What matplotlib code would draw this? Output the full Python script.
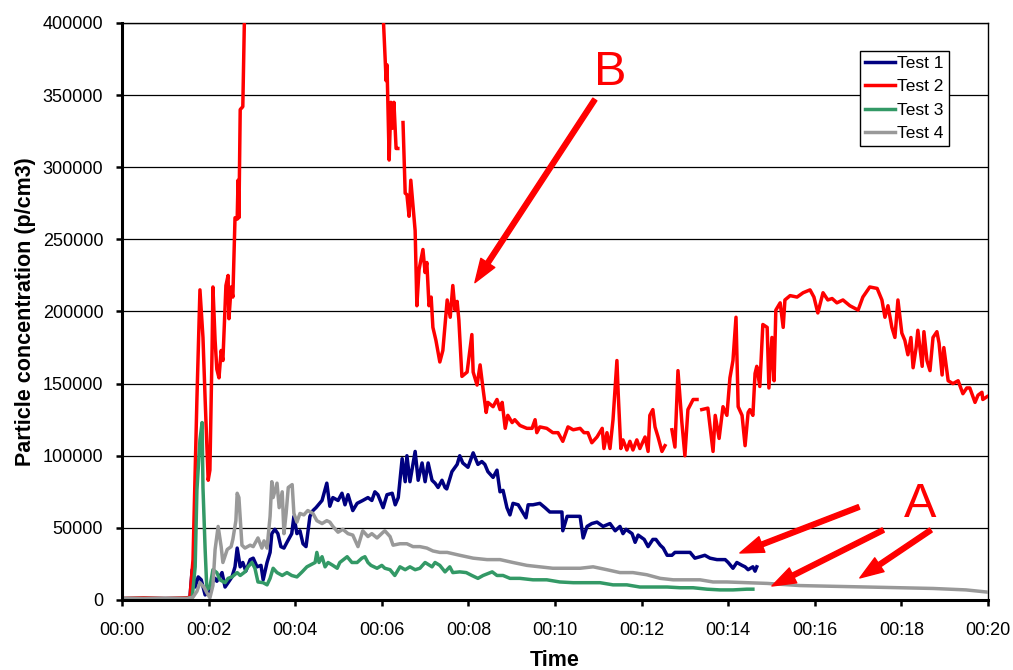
import numpy as np
import matplotlib
matplotlib.use("Agg")
import matplotlib.pyplot as plt
from matplotlib.ticker import FuncFormatter, MultipleLocator

plt.rcParams['font.family'] = ['Liberation Sans', 'DejaVu Sans']

nan = float('nan')

# ---- Test 1 (minutes, p/cm3)
t1 = [0.0, 0.5, 1.0, 1.5, 1.57, 1.62, 1.69, 1.76, 1.83, 1.92, 2.01, 2.08, 2.15, 2.19, 2.31, 2.38, 2.45,
      2.54, 2.61, 2.66, 2.73, 2.79, 2.86, 2.96, 3.03, 3.12, 3.21, 3.26, 3.35, 3.42, 3.46, 3.53, 3.60,
      3.67, 3.74, 3.81, 3.92, 3.97, 4.04, 4.11, 4.18, 4.25, 4.34, 4.41, 4.48, 4.62, 4.73, 4.80, 4.87,
      4.99, 5.08, 5.15, 5.22, 5.33, 5.43, 5.56, 5.68, 5.77, 5.84, 5.91, 6.03, 6.12, 6.24, 6.31, 6.38,
      6.47, 6.54, 6.58, 6.65, 6.77, 6.84, 6.93, 7.00, 7.07, 7.16, 7.23, 7.30, 7.39, 7.46, 7.50, 7.62,
      7.74, 7.80, 7.87, 7.99, 8.11, 8.22, 8.31, 8.38, 8.45, 8.57, 8.66, 8.73, 8.80, 8.89, 8.96, 9.03,
      9.15, 9.33, 9.38, 9.49, 9.65, 9.77, 9.88, 10.16, 10.18, 10.28, 10.42, 10.58, 10.65, 10.74, 10.85,
      10.97, 11.11, 11.27, 11.39, 11.50, 11.57, 11.64, 11.78, 11.85, 11.92, 12.06, 12.15, 12.26, 12.33,
      12.43, 12.50, 12.59, 12.70, 12.77, 12.89, 13.00, 13.12, 13.23, 13.35, 13.46, 13.58, 13.74, 13.86,
      13.93, 14.00, 14.11, 14.20, 14.32, 14.39, 14.46, 14.57, 14.62, 14.66]
v1 = [1000, 1000, 1000, 1000, 2000, 21000, 9000, 16000, 14000, 3500, 6000, 12000, 15000, 13000, 19000,
      9000, 12000, 16000, 23000, 36000, 23000, 26000, 20000, 28000, 29000, 23000, 24000, 14000, 26000,
      33000, 46000, 49000, 46000, 37000, 36000, 40000, 46000, 58000, 46000, 48000, 39000, 37000, 58000,
      62000, 64000, 69000, 81000, 65000, 71000, 69000, 74000, 66000, 73000, 62000, 67000, 69000, 71000,
      69000, 75000, 73000, 64000, 73000, 74000, 66000, 71000, 98000, 82000, 100000, 82000, 103000,
      83000, 95000, 82000, 95000, 83000, 81000, 78000, 83000, 78000, 77000, 89000, 94000, 100000, 95000,
      92000, 102000, 94000, 96000, 94000, 89000, 85000, 90000, 75000, 76000, 64000, 59000, 67000, 66000,
      57000, 66000, 66000, 67000, 64000, 61000, 61000, 48000, 58000, 58000, 58000, 43000, 51000, 53000,
      54000, 51000, 53000, 48000, 51000, 46000, 49000, 46000, 40000, 45000, 42000, 37000, 42000, 42000,
      38000, 36000, 31000, 31000, 33000, 33000, 33000, 33000, 29000, 30000, 31000, 29000, 28000, 28000,
      28000, 26000, 22000, 26000, 24000, 23000, 21000, 23000, 20000, 23000]

# ---- Test 2
t2 = [0.0, 0.5, 1.0, 1.5, 1.57, 1.64, 1.73, 1.80, 1.87, 1.92, 1.99, 2.03, 2.08, 2.10, 2.15, 2.19, 2.24,
      2.29, 2.33, 2.40, 2.45, 2.47, 2.52, 2.56, 2.61, 2.66, 2.68, 2.70, 2.73, 2.79, 2.85, 5.98, 6.10,
      6.12, 6.17, 6.21, 6.24, 6.28, 6.33, 6.37, 6.42, 6.49, 6.54, 6.58, 6.63, 6.67, 6.77, 6.81, 6.86,
      6.95, 7.00, 7.04, 7.09, 7.14, 7.18, 7.25, 7.34, 7.41, 7.51, 7.58, 7.64, 7.69, 7.74, 7.78, 7.85,
      7.97, 8.08, 8.11, 8.20, 8.27, 8.34, 8.41, 8.45, 8.57, 8.66, 8.73, 8.78, 8.85, 8.91, 9.01, 9.07,
      9.19, 9.35, 9.47, 9.54, 9.58, 9.65, 9.81, 9.95, 10.07, 10.18, 10.30, 10.42, 10.58, 10.67, 10.76,
      10.85, 10.97, 11.09, 11.13, 11.20, 11.27, 11.34, 11.43, 11.46, 11.52, 11.57, 11.66, 11.73, 11.80,
      11.89, 11.96, 12.08, 12.15, 12.19, 12.26, 12.31, 12.38, 12.47, 12.54, 12.61, 12.70, 12.77, 12.84,
      12.93, 13.00, 13.07, 13.19, 13.28, 13.34, 13.39, 13.53, 13.65, 13.70, 13.79, 13.88, 13.97, 14.04,
      14.11, 14.18, 14.23, 14.32, 14.39, 14.46, 14.50, 14.57, 14.62, 14.66, 14.73, 14.80, 14.90, 14.94,
      15.01, 15.06, 15.10, 15.20, 15.27, 15.31, 15.43, 15.59, 15.73, 15.89, 15.98, 16.07, 16.19, 16.30,
      16.40, 16.51, 16.65, 16.81, 17.00, 17.11, 17.27, 17.44, 17.55, 17.62, 17.69, 17.78, 17.85, 17.92,
      18.01, 18.08, 18.15, 18.22, 18.27, 18.34, 18.38, 18.48, 18.52, 18.59, 18.66, 18.73, 18.82, 18.87,
      18.94, 18.98, 19.08, 19.19, 19.31, 19.42, 19.51, 19.58, 19.70, 19.77, 19.86, 19.88, 19.98]
v2 = [1000, 1500, 1000, 1500, 2000, 28000, 139000, 215000, 182000, 139000, 83000, 90000, 173000, 217000,
      180000, 160000, 154000, 173000, 166000, 218000, 225000, 195000, 217000, 210000, 265000, 264000,
      291000, 265000, 340000, 342000, 440000, 440000, 360000, 371000, 305000, 345000, 327000, 345000,
      313000, 313000, nan, 331000, 282000, 281000, 266000, 291000, 256000, 204000, 229000, 243000,
      227000, 234000, 204000, 210000, 189000, 180000, 165000, 173000, 208000, 196000, 218000, 201000,
      207000, 194000, 155000, 158000, 184000, 158000, 149000, 163000, 146000, 130000, 137000, 134000,
      139000, 132000, 137000, 119000, 128000, 123000, 125000, 121000, 119000, 119000, 125000, 116000,
      120000, 119000, 116000, 116000, 110000, 120000, 118000, 119000, 116000, 116000, 109000, 113000,
      119000, 105000, 116000, 105000, 125000, 166000, 143000, 105000, 111000, 104000, 110000, 104000,
      111000, 105000, 113000, 103000, 128000, 132000, 120000, 113000, 103000, 107000, nan, 118000,
      106000, 159000, 123000, 100000, 132000, 139000, 139000, nan, 132000, 133000, 103000, 128000,
      112000, 134000, 128000, 154000, 166000, 196000, 134000, 128000, 107000, 130000, 132000, 128000,
      157000, 162000, 148000, 191000, 189000, 147000, 182000, 152000, 201000, 206000, 189000, 208000,
      211000, 210000, 213000, 215000, 210000, 199000, 213000, 208000, 209000, 206000, 208000, 204000,
      201000, 210000, 217000, 216000, 208000, 196000, 204000, 189000, 182000, 208000, 185000, 180000,
      170000, 182000, 161000, 175000, 187000, 162000, 186000, 166000, 159000, 182000, 186000, 178000,
      156000, 175000, 152000, 150000, 152000, 143000, 147000, 147000, 137000, 142000, 144000, 139000,
      141000]

# ---- Test 3
t3 = [0.0, 0.5, 1.0, 1.5, 1.62, 1.69, 1.73, 1.80, 1.85, 1.87, 1.92, 1.96, 2.03, 2.10, 2.19, 2.26, 2.38,
      2.45, 2.54, 2.66, 2.73, 2.84, 2.91, 3.00, 3.07, 3.14, 3.26, 3.35, 3.42, 3.49, 3.58, 3.70, 3.81,
      3.92, 4.04, 4.16, 4.27, 4.46, 4.50, 4.55, 4.62, 4.69, 4.76, 4.87, 4.97, 5.03, 5.20, 5.31, 5.43,
      5.54, 5.61, 5.68, 5.75, 5.89, 6.00, 6.07, 6.19, 6.30, 6.42, 6.54, 6.65, 6.77, 6.88, 7.00, 7.16,
      7.23, 7.34, 7.46, 7.57, 7.64, 7.80, 7.95, 8.08, 8.22, 8.34, 8.55, 8.66, 8.80, 8.96, 9.19, 9.49,
      9.81, 10.11, 10.42, 10.74, 11.04, 11.34, 11.66, 11.96, 12.26, 12.59, 12.89, 13.19, 13.51, 13.81,
      14.11, 14.43, 14.57]
v3 = [1000, 1000, 1000, 1000, 1500, 23000, 76000, 111000, 123000, 78000, 35000, 7000, 9000, 21000,
      19000, 14000, 12000, 15000, 16000, 19000, 17000, 19500, 23000, 26000, 22000, 12500, 12000, 10500,
      15000, 22000, 19000, 17000, 19000, 17000, 16000, 19500, 23000, 26000, 33000, 26000, 30000, 23000,
      26000, 24000, 22000, 26000, 30000, 26000, 26000, 29000, 30000, 26000, 24000, 22000, 24000, 22000,
      21000, 17000, 23000, 21000, 23000, 21000, 22000, 26000, 23000, 26000, 24000, 19500, 23000, 19000,
      19500, 19000, 17000, 15000, 17000, 19500, 17000, 17000, 15000, 15000, 14000, 14000, 12500, 12000,
      12000, 12000, 10500, 10500, 9000, 9000, 9000, 8500, 8500, 7500, 7000, 7000, 7500, 7500]

# ---- Test 4
t4 = [0.0, 0.5, 1.0, 1.5, 1.64, 1.73, 1.80, 1.89, 1.96, 2.03, 2.10, 2.15, 2.22, 2.29, 2.33, 2.43, 2.52,
      2.56, 2.63, 2.66, 2.70, 2.77, 2.84, 2.96, 3.03, 3.14, 3.23, 3.28, 3.35, 3.42, 3.46, 3.49, 3.58,
      3.63, 3.70, 3.74, 3.79, 3.84, 3.93, 3.97, 4.04, 4.11, 4.20, 4.29, 4.41, 4.50, 4.62, 4.73, 4.80,
      4.87, 4.99, 5.10, 5.22, 5.33, 5.45, 5.56, 5.68, 5.77, 5.89, 6.03, 6.07, 6.19, 6.26, 6.42, 6.58,
      6.72, 6.88, 7.04, 7.18, 7.34, 7.51, 7.80, 8.11, 8.43, 8.73, 9.03, 9.35, 9.65, 9.95, 10.28, 10.58,
      10.88, 11.20, 11.50, 11.80, 12.12, 12.43, 12.73, 13.04, 13.35, 13.65, 13.97, 14.43, 14.90, 15.66,
      16.42, 17.21, 17.97, 18.73, 19.49, 19.98]
v4 = [1000, 1000, 1000, 1000, 2000, 6000, 12000, 9000, 5000, 1500, 10000, 35000, 51000, 37000, 26000,
      35000, 37000, 42000, 55000, 74000, 71000, 38000, 36000, 38000, 37000, 43000, 36000, 41000, 36000,
      58000, 82000, 71000, 81000, 64000, 75000, 46000, 60000, 78000, 80000, 60000, 54000, 60000, 59000,
      62000, 60000, 55000, 53000, 55000, 54000, 51000, 47000, 49000, 46000, 45000, 37000, 48000, 44000,
      46000, 43000, 47000, 48000, 44000, 38000, 39000, 39000, 37000, 37000, 36000, 34000, 33000, 33000,
      31000, 29000, 28000, 28000, 26000, 24000, 23000, 22000, 22000, 22000, 23000, 21000, 19000, 19000,
      17500, 15000, 14000, 14000, 14000, 12500, 12500, 12000, 11500, 10000, 9500, 9000, 8500, 8000,
      7000, 5500]

series_names = ["Test 1", "Test 2", "Test 3", "Test 4"]
series_colors = ["#000080", "#FF0000", "#339966", "#999999"]

# annotations: (label, label position, list of (tail, tip))
label_B = ("B", (11.27, 366000))
arrows_B = [((10.92, 347000), (8.15, 220000))]
label_A = ("A", (18.43, 66000))
arrows_A = [((17.02, 64500), (14.27, 32600)),
            ((17.58, 48500), (15.01, 9700)),
            ((18.68, 48500), (17.04, 15300))]

fig = plt.figure(figsize=(10.13, 6.70), dpi=100)
ax = fig.add_axes([122 / 1013, 1 - 600 / 670, 866 / 1013, 577 / 670])

for t, v, name, c in zip([t1, t2, t3, t4], [v1, v2, v3, v4], series_names, series_colors):
    ax.plot(t, v, color=c, lw=2.5, label=name, zorder=3)

ax.set_xlim(0, 20)
ax.set_ylim(0, 400000)
ax.xaxis.set_major_locator(MultipleLocator(2))
ax.yaxis.set_major_locator(MultipleLocator(50000))
ax.xaxis.set_major_formatter(FuncFormatter(lambda x, p: "00:%02d" % int(round(x))))
ax.yaxis.set_major_formatter(FuncFormatter(lambda y, p: "%d" % int(round(y))))

ax.grid(axis='y', color='black', lw=0.9, zorder=0)
ax.set_axisbelow(True)
for s in ['left', 'bottom']:
    ax.spines[s].set_linewidth(2.2)
    ax.spines[s].set_zorder(5)
for s in ['right', 'top']:
    ax.spines[s].set_linewidth(1.0)

ax.tick_params(axis='both', direction='out', length=4.5, width=1.8, labelsize=13, color='black')
ax.tick_params(axis='y', pad=9)
ax.tick_params(axis='x', pad=11)

ax.set_ylabel("Particle concentration (p/cm3)", fontsize=15.5, fontweight='bold', labelpad=5)
ax.set_xlabel("Time", fontsize=15.5, fontweight='bold', labelpad=8)

leg = ax.legend(loc='upper left', bbox_to_anchor=(0.852, 0.952), fontsize=12.5, frameon=True,
                fancybox=False, framealpha=1, edgecolor='black', handlelength=1.7,
                handletextpad=0.15, labelspacing=0.47, borderpad=0.3, borderaxespad=0)
leg.get_frame().set_linewidth(1.0)
for line in leg.get_lines():
    line.set_linewidth(2.5)

arrow_kw = dict(facecolor='red', edgecolor='red', width=3.5, headwidth=12, headlength=17, shrink=0)
for txt, pos, arrs in [(label_B[0], label_B[1], arrows_B), (label_A[0], label_A[1], arrows_A)]:
    ax.text(pos[0], pos[1], txt, color='red', fontsize=35, ha='center', va='center', zorder=6)
    for tail, tip in arrs:
        ax.annotate("", xy=tip, xytext=tail, arrowprops=arrow_kw, zorder=6)

fig.savefig("out.png", dpi=100)
